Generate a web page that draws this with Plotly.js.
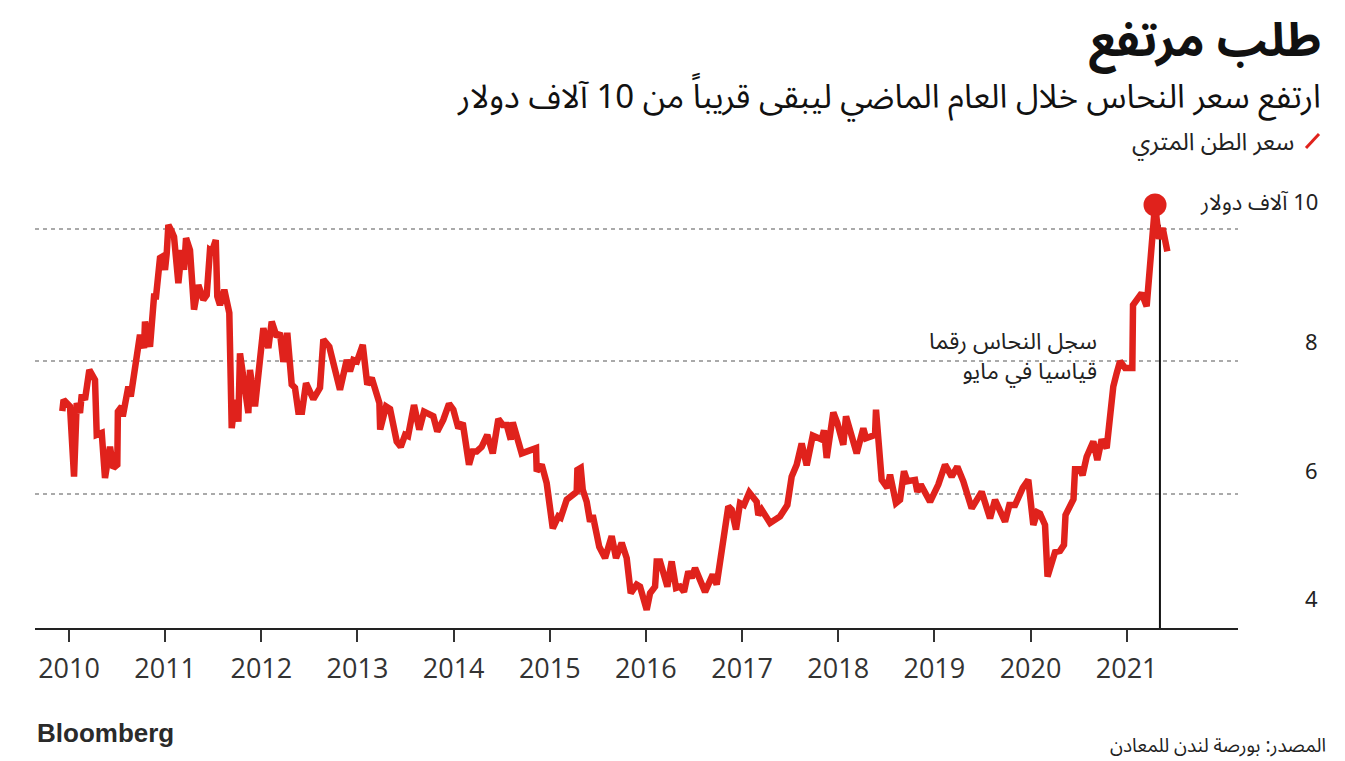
<!DOCTYPE html>
<html>
<head>
<meta charset="utf-8">
<script src="https://cdn.plot.ly/plotly-3.0.1.min.js"></script>
<style>
  html, body { margin: 0; padding: 0; background: #fff; }
  #chart { width: 1345px; height: 761px; }
</style>
</head>
<body>
<div id="chart"></div>
<script>
// Copper price, thousands of US$ per metric ton
const dates = [
  2009.930, 2009.943, 2010.010, 2010.052, 2010.080, 2010.114, 2010.132, 2010.166, 2010.211, 2010.270,
  2010.288, 2010.340, 2010.374, 2010.426, 2010.461, 2010.502, 2010.508, 2010.548, 2010.559, 2010.617,
  2010.642, 2010.738, 2010.780, 2010.790, 2010.842, 2010.884, 2010.905, 2010.946, 2010.970, 2010.998,
  2011.016, 2011.033, 2011.068, 2011.092, 2011.137, 2011.172, 2011.196, 2011.217, 2011.258, 2011.300,
  2011.345, 2011.397, 2011.432, 2011.466, 2011.487, 2011.526, 2011.542, 2011.570, 2011.615, 2011.667,
  2011.692, 2011.726, 2011.761, 2011.778, 2011.865, 2011.882, 2011.934, 2012.021, 2012.073, 2012.108,
  2012.160, 2012.194, 2012.229, 2012.270, 2012.316, 2012.350, 2012.385, 2012.423, 2012.465, 2012.541,
  2012.610, 2012.645, 2012.707, 2012.818, 2012.888, 2012.922, 2012.957, 2012.995, 2013.055, 2013.102,
  2013.148, 2013.228, 2013.236, 2013.297, 2013.339, 2013.408, 2013.450, 2013.495, 2013.526, 2013.588,
  2013.643, 2013.692, 2013.789, 2013.830, 2013.893, 2013.952, 2013.997, 2014.049, 2014.095, 2014.160,
  2014.199, 2014.240, 2014.292, 2014.350, 2014.407, 2014.465, 2014.511, 2014.552, 2014.594, 2014.615,
  2014.708, 2014.857, 2014.864, 2014.916, 2014.968, 2015.031, 2015.089, 2015.114, 2015.176, 2015.280,
  2015.287, 2015.322, 2015.343, 2015.384, 2015.419, 2015.447, 2015.515, 2015.575, 2015.644, 2015.689,
  2015.748, 2015.800, 2015.842, 2015.904, 2015.939, 2016.008, 2016.043, 2016.095, 2016.112, 2016.147,
  2016.223, 2016.268, 2016.313, 2016.355, 2016.396, 2016.441, 2016.476, 2016.511, 2016.615, 2016.695,
  2016.736, 2016.857, 2016.892, 2016.937, 2016.979, 2017.020, 2017.075, 2017.152, 2017.169, 2017.204,
  2017.291, 2017.395, 2017.471, 2017.516, 2017.568, 2017.620, 2017.672, 2017.735, 2017.828, 2017.852,
  2017.880, 2017.949, 2017.991, 2018.053, 2018.081, 2018.123, 2018.192, 2018.261, 2018.289, 2018.383,
  2018.393, 2018.452, 2018.511, 2018.539, 2018.601, 2018.643, 2018.684, 2018.719, 2018.799, 2018.823,
  2018.858, 2018.955, 2019.041, 2019.111, 2019.180, 2019.239, 2019.301, 2019.388, 2019.492, 2019.579,
  2019.631, 2019.735, 2019.780, 2019.839, 2019.919, 2019.977, 2020.029, 2020.071, 2020.099, 2020.151,
  2020.177, 2020.255, 2020.307, 2020.348, 2020.364, 2020.447, 2020.463, 2020.515, 2020.541, 2020.584,
  2020.653, 2020.695, 2020.740, 2020.792, 2020.861, 2020.896, 2020.931, 2020.983, 2021.059, 2021.066,
  2021.156, 2021.208, 2021.271, 2021.295, 2021.336, 2021.375, 2021.423
];
const priceK = [
  7.25, 7.42, 7.32, 6.26, 7.37, 7.22, 7.50, 7.42, 7.87, 7.72,
  6.89, 6.92, 6.24, 6.71, 6.39, 6.44, 7.24, 7.32, 7.17, 7.62,
  7.47, 8.40, 8.20, 8.60, 8.22, 8.98, 8.98, 9.56, 9.58, 9.38,
  9.63, 10.06, 9.96, 9.88, 9.18, 9.68, 9.38, 9.86, 9.68, 8.78,
  9.15, 8.93, 9.00, 9.68, 9.66, 9.83, 8.98, 8.85, 9.08, 8.73,
  6.99, 7.42, 7.09, 8.12, 7.22, 7.87, 7.32, 8.50, 8.20, 8.60,
  8.37, 8.43, 7.99, 8.43, 7.65, 7.60, 7.24, 7.24, 7.67, 7.43,
  7.60, 8.33, 8.22, 7.57, 8.02, 7.85, 8.02, 8.00, 8.25, 7.65,
  7.75, 7.37, 6.97, 7.32, 7.28, 6.79, 6.71, 6.89, 6.87, 7.34,
  6.97, 7.24, 7.17, 6.94, 7.12, 7.36, 7.27, 6.99, 7.07, 6.44,
  6.64, 6.64, 6.71, 6.89, 6.61, 7.13, 7.04, 7.04, 6.82, 7.08,
  6.61, 6.69, 6.34, 6.44, 6.16, 5.48, 5.66, 5.64, 5.91, 6.03,
  6.36, 6.39, 6.06, 5.88, 5.58, 5.68, 5.20, 5.03, 5.36, 5.03,
  5.26, 5.03, 4.50, 4.63, 4.60, 4.25, 4.50, 4.60, 4.98, 4.98,
  4.60, 4.98, 4.58, 4.60, 4.52, 4.83, 4.73, 4.88, 4.52, 4.78,
  4.63, 5.81, 5.76, 5.46, 5.86, 5.83, 6.02, 5.88, 5.68, 5.76,
  5.56, 5.66, 5.83, 6.26, 6.44, 6.76, 6.43, 6.88, 6.82, 6.96,
  6.54, 7.23, 7.07, 6.74, 7.17, 6.97, 6.61, 6.99, 6.84, 6.89,
  7.27, 6.21, 6.09, 6.29, 5.86, 5.91, 6.34, 6.19, 6.21, 6.03,
  6.14, 5.88, 6.14, 6.44, 6.26, 6.41, 6.19, 5.78, 6.03, 5.63,
  5.91, 5.58, 5.83, 5.83, 6.09, 6.21, 5.53, 5.72, 5.70, 5.53,
  4.75, 5.12, 5.14, 5.23, 5.68, 5.92, 6.37, 6.37, 6.28, 6.56,
  6.79, 6.51, 6.82, 6.69, 7.62, 7.82, 8.00, 7.90, 7.90, 8.85,
  9.03, 8.83, 9.86, 10.36, 9.85, 10.01, 9.66
];
const yearTicks = [2010, 2011, 2012, 2013, 2014, 2015, 2016, 2017, 2018, 2019, 2020, 2021];
const yearLabels = ['2010', '2011', '2012', '2013', '2014', '2015', '2016', '2017', '2018', '2019', '2020', '2021'];
const priceTicks = [4, 6, 8, 10];
const priceLabels = ['4', '6', '8', '\u200F10 آلاف دولار'];
const gridTicks = [6, 8, 10];
const recordDate = 2021.346;

const titleText = 'طلب مرتفع';
const subtitleText = 'ارتفع سعر النحاس خلال العام الماضي ليبقى قريباً من 10 آلاف دولار';
const legendText = 'سعر الطن المتري';
const noteText = 'سجل النحاس رقما<br>قياسيا في مايو';
const sourceText = 'المصدر: بورصة لندن للمعادن';

const RED = '#e0221c';
const AR = 'Noto Sans Arabic, DejaVu Sans, sans-serif';

// peak point (from data)
let peakI = 0;
priceK.forEach((v, i) => { if (v > priceK[peakI]) peakI = i; });

const traces = [
  {
    x: dates, y: priceK, type: 'scatter', mode: 'lines',
    line: { color: RED, width: 6.5, shape: 'linear' },
    hoverinfo: 'skip', showlegend: false
  },
  {
    x: [dates[peakI]], y: [priceK[peakI]], type: 'scatter', mode: 'markers',
    marker: { color: RED, size: 23 }, hoverinfo: 'skip', showlegend: false
  }
];

// y labels sit above their gridlines
const labelShift = [26, 22, 18, 26];
const annotations = priceTicks.map((v, i) => ({
  xref: 'paper', yref: 'y', x: 1, y: v, xanchor: 'right', yanchor: 'middle',
  xshift: 82, yshift: labelShift[i], showarrow: false,
  text: priceLabels[i], font: { family: AR, size: 22, color: '#222' }
}));

const W = 1203, H = 438, L = 35, T = 190;
const px = (x) => (x - L) / W;
const py = (y) => (T + H - y) / H;

annotations.push(
  { xref: 'paper', yref: 'paper', x: px(1323), y: py(41), xanchor: 'right', yanchor: 'middle',
    showarrow: false, text: '<b>' + titleText + '</b>', font: { family: AR, size: 47, color: '#111' } },
  { xref: 'paper', yref: 'paper', x: px(1323), y: py(97), xanchor: 'right', yanchor: 'middle',
    showarrow: false, text: subtitleText, font: { family: AR, size: 33, color: '#111' } },
  { xref: 'paper', yref: 'paper', x: px(1296), y: py(142), xanchor: 'right', yanchor: 'middle',
    showarrow: false, text: legendText, font: { family: AR, size: 24, color: '#222' } },
  { xref: 'x', yref: 'y', x: recordDate, y: 8.07, xanchor: 'right', yanchor: 'middle', xshift: -61,
    showarrow: false, align: 'right', text: noteText, font: { family: AR, size: 23, color: '#222' } },
  { xref: 'paper', yref: 'paper', x: 0, y: py(733), xanchor: 'left', yanchor: 'middle',
    showarrow: false, text: '<b>Bloomberg</b>', font: { family: 'Liberation Sans, Arial, sans-serif', size: 26, color: '#2a2a2a' } },
  { xref: 'paper', yref: 'paper', x: px(1328), y: py(746), xanchor: 'right', yanchor: 'middle',
    showarrow: false, text: sourceText, font: { family: AR, size: 19, color: '#222' } }
);

const shapes = [
  { type: 'line', xref: 'x', yref: 'y', x0: recordDate, x1: recordDate, y0: priceK[peakI] - 0.3, y1: 3.975,
    line: { color: '#111', width: 2 }, layer: 'below' },
  { type: 'line', xref: 'paper', yref: 'paper', x0: px(1306), x1: px(1319), y0: py(148), y1: py(134),
    line: { color: RED, width: 3 } }
];

const layout = {
  width: 1345, height: 761,
  margin: { l: L, r: 1345 - L - W, t: T, b: 761 - T - H, pad: 0 },
  paper_bgcolor: '#fff', plot_bgcolor: '#fff',
  showlegend: false,
  xaxis: {
    range: [2009.646, 2022.158], tickvals: yearTicks, ticktext: yearLabels,
    showgrid: false, zeroline: false,
    showline: true, linecolor: '#222', linewidth: 2,
    ticks: 'outside', ticklen: 12, tickwidth: 2, tickcolor: '#333',
    ticklabelstandoff: 4,
    tickfont: { family: 'Open Sans, sans-serif', size: 27, color: '#333' },
    fixedrange: true
  },
  yaxis: {
    range: [3.975, 10.586], tickvals: gridTicks, showticklabels: false, ticks: '',
    showgrid: true, gridcolor: '#aaaaaa', gridwidth: 2, griddash: '4px,4px',
    zeroline: false, showline: false, fixedrange: true
  },
  annotations: annotations,
  shapes: shapes
};

Plotly.newPlot('chart', traces, layout, { displayModeBar: false, staticPlot: true });
</script>
</body>
</html>
